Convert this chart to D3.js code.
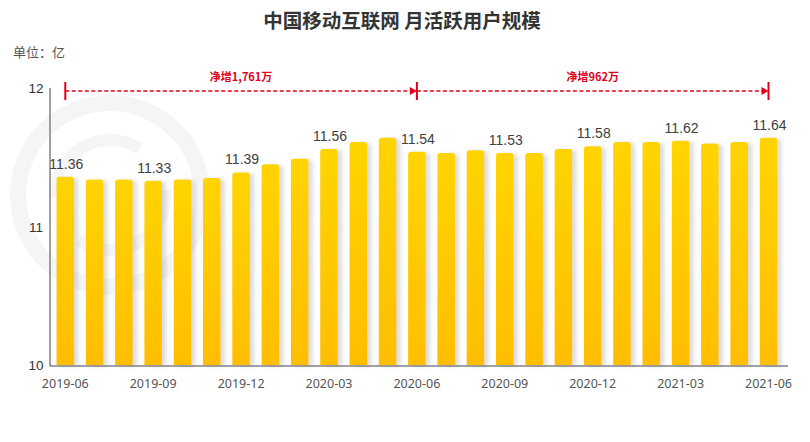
<!DOCTYPE html>
<html><head><meta charset="utf-8">
<script src="https://cdn.jsdelivr.net/npm/d3@7"></script>
<style>body{margin:0;background:#fff}</style>
</head><body><svg id="c" width="810" height="442"></svg>
<script>
const months = ["2019-06","2019-07","2019-08","2019-09","2019-10","2019-11","2019-12","2020-01","2020-02","2020-03","2020-04","2020-05","2020-06","2020-07","2020-08","2020-09","2020-10","2020-11","2020-12","2021-01","2021-02","2021-03","2021-04","2021-05","2021-06"];
const values = [11.36,11.34,11.34,11.33,11.34,11.35,11.39,11.45,11.49,11.56,11.61,11.64,11.54,11.53,11.55,11.53,11.53,11.56,11.58,11.61,11.61,11.62,11.60,11.61,11.64];
const labelEvery = 3;
const yTicks = [10, 11, 12];
const spanStarts = ["2019-06","2020-06"];
const spanEnds = ["2020-06","2021-06"];
const spanTexts = ["净增1,761万","净增962万"];
const title = "中国移动互联网 月活跃用户规模";
const unitText = "单位：亿";

const svg = d3.select("#c");
const x = d3.scaleBand().domain(months).range([50.65, 783.15]).paddingInner(0.4).paddingOuter(0.2);
const y = d3.scaleLinear().domain([10, 12]).range([365, 88]);

const defs = svg.append("defs");
const g = defs.append("linearGradient").attr("id","bg").attr("x1",0).attr("y1",0).attr("x2",0).attr("y2",1);
g.append("stop").attr("offset","0%").attr("stop-color","#FFD400");
g.append("stop").attr("offset","100%").attr("stop-color","#FFBE00");
const f = defs.append("filter").attr("id","sh").attr("x","-50%").attr("y","-10%").attr("width","200%").attr("height","120%");
f.append("feDropShadow").attr("dx",4).attr("dy",1).attr("stdDeviation",2).attr("flood-color","#999").attr("flood-opacity",0.35);

// faint watermark
const wm = svg.append("g").attr("fill","none").attr("stroke","#f5f5f5");
wm.append("circle").attr("cx",110).attr("cy",195).attr("r",92).attr("stroke-width",16);
wm.append("circle").attr("cx",110).attr("cy",195).attr("r",55).attr("stroke-width",12).attr("stroke-dasharray","120 50");

// title
svg.append("text").attr("x",402).attr("y",28).attr("text-anchor","middle")
  .attr("font-family","'Noto Sans CJK SC'").attr("font-weight","bold").attr("font-size",19.5).attr("fill","#333").text(title);
svg.append("text").attr("x",13).attr("y",57)
  .attr("font-family","'Noto Sans CJK SC'").attr("font-size",13).attr("fill","#555").text(unitText);

// bars
const xc = d => x(d) + x.bandwidth()/2;
svg.append("g").selectAll("path").data(months).join("path")
  .attr("filter","url(#sh)")
  .attr("fill","url(#bg)")
  .attr("d",(d,i)=>{
    const x0 = x(d), w = x.bandwidth(), y0 = y(values[i]), y1 = y(10), r = 3;
    return `M${x0},${y1}V${y0+r}Q${x0},${y0} ${x0+r},${y0}H${x0+w-r}Q${x0+w},${y0} ${x0+w},${y0+r}V${y1}Z`;
  });

// value labels
svg.append("g").selectAll("text").data(months.filter((d,i)=>i%labelEvery===0)).join("text")
  .attr("x",d=>xc(d)+1).attr("y",d=>y(values[months.indexOf(d)])-8)
  .attr("text-anchor","middle").attr("font-family","'Liberation Sans', Arial").attr("font-size",14)
  .attr("fill","#404040").text(d=>values[months.indexOf(d)].toFixed(2));

// axes
svg.append("line").attr("x1",50).attr("x2",50).attr("y1",88).attr("y2",366).attr("stroke","#444").attr("stroke-width",1);
svg.append("line").attr("x1",50).attr("x2",788).attr("y1",366).attr("y2",366).attr("stroke","#444").attr("stroke-width",1);

svg.append("g").selectAll("text").data(yTicks).join("text")
  .attr("x",36).attr("y",d=>y(d)+5).attr("text-anchor","middle")
  .attr("font-family","'Liberation Sans', Arial").attr("font-size",13.5).attr("fill","#333").text(d=>d);

svg.append("g").selectAll("text").data(months.filter((d,i)=>i%labelEvery===0)).join("text")
  .attr("x",d=>xc(d)).attr("y",388).attr("text-anchor","middle")
  .attr("font-family","'Noto Sans'").attr("font-size",12.5).attr("fill","#555").text(d=>d);

// annotations
const red = "#E0001B";
const ay = 91;
const ann = svg.append("g");
spanStarts.forEach((s,i)=>{
  const x1 = xc(s), x2 = xc(spanEnds[i]);
  ann.append("line").attr("x1",x1).attr("x2",x2-5).attr("y1",ay).attr("y2",ay)
    .attr("stroke",red).attr("stroke-width",1.6).attr("stroke-dasharray","4 2.5");
  ann.append("path").attr("d",`M${x2-7},${ay-4}L${x2},${ay}L${x2-7},${ay+4}Z`).attr("fill",red);
  ann.append("text").attr("x",(x1+x2)/2).attr("y",ay-10).attr("text-anchor","middle")
    .attr("font-family","'Noto Sans CJK SC'").attr("font-weight","bold").attr("font-size",11)
    .attr("fill",red).text(spanTexts[i]);
});
const tickPts = Array.from(new Set(spanStarts.concat(spanEnds)));
ann.selectAll("line.t").data(tickPts).join("line").attr("class","t")
  .attr("x1",d=>xc(d)).attr("x2",d=>xc(d)).attr("y1",ay-9).attr("y2",ay+9)
  .attr("stroke",red).attr("stroke-width",2);
</script></body></html>
